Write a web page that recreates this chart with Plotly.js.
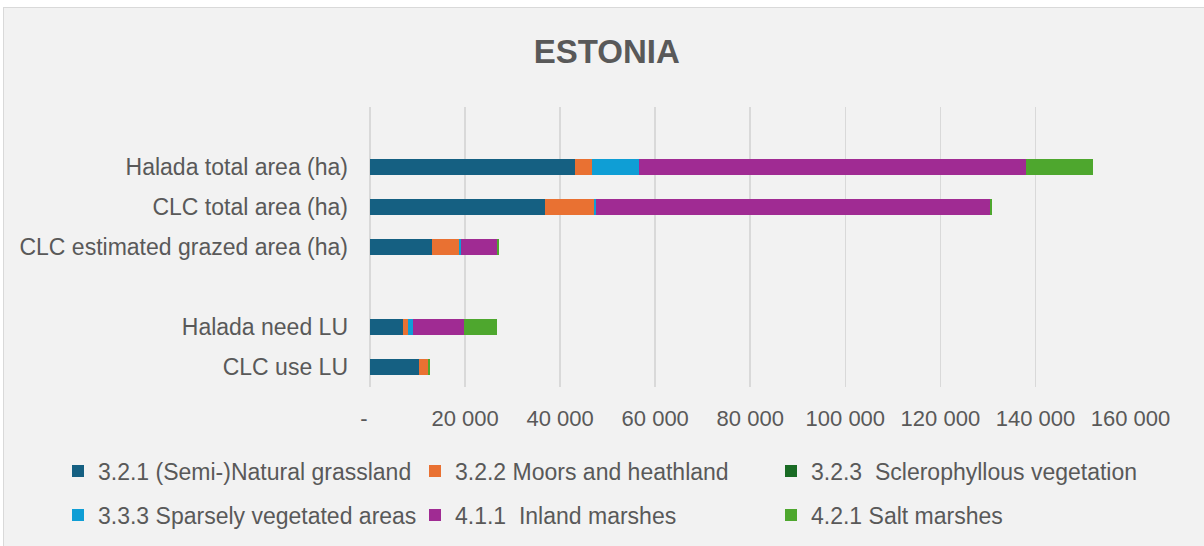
<!DOCTYPE html>
<html>
<head>
<meta charset="utf-8">
<script src="https://cdn.plot.ly/plotly-3.0.1.min.js"></script>
<style>
  html, body { margin: 0; padding: 0; background: #ffffff; width: 1204px; height: 546px; overflow: hidden; }
  #frame { position: absolute; left: 3px; top: 7px; width: 1220px; height: 560px; background: #f2f2f2; border: 1.5px solid #d9d9d9; box-sizing: border-box; }
  #chart { position: absolute; left: 0; top: 0; width: 1204px; height: 546px; }
</style>
</head>
<body>
<div id="frame"></div>
<div id="chart"></div>
<script>
// Categories (top to bottom); blank entries are empty rows in the chart
const categories = [" ", "Halada total area (ha)", "CLC total area (ha)", "CLC estimated grazed area (ha)", "  ", "Halada need LU", "CLC use LU"];

// Series values (ha / LU)
const grassland321 = [null, 43170, 36870, 13130, null, 7040, 10400];
const moors322     = [null, 3500, 10150, 5670, null, 980, 1890];
const scler323     = [null, 0, 0, 0, null, 0, 0];
const sparse333    = [null, 10000, 500, 360, null, 970, 0];
const inland411    = [null, 81410, 82840, 7630, null, 10800, 0];
const salt421      = [null, 14030, 440, 410, null, 7000, 350];

const seriesNames = [
  "3.2.1 (Semi-)Natural grassland",
  "3.2.2 Moors and heathland",
  "3.2.3\u00a0 Sclerophyllous vegetation",
  "3.3.3 Sparsely vegetated areas",
  "4.1.1\u00a0 Inland marshes",
  "4.2.1 Salt marshes"
];

// X axis ticks
const tickValues = [0, 20000, 40000, 60000, 80000, 100000, 120000, 140000, 160000];
const tickLabels = ["-\u00a0\u00a0", "20 000", "40 000", "60 000", "80 000", "100 000", "120 000", "140 000", "160 000"];

const seriesValues = [grassland321, moors322, scler323, sparse333, inland411, salt421];
const colors = ["#156082", "#E97132", "#196B24", "#0F9ED5", "#A02B93", "#4EA72E"];

const FONT = "Liberation Sans, Arial, sans-serif";
const TXT = "#595959";

// legend grid: 3 columns x 2 rows (text start x, row centre y in px)
const legendTextX = [98, 455, 811];
const legendRowY = [471, 515];

const traces = seriesValues.map((vals, i) => ({
  type: "bar",
  orientation: "h",
  name: seriesNames[i],
  x: vals,
  y: categories,
  marker: { color: colors[i], line: { width: 0 } },
  legend: i === 0 ? "legend" : "legend" + (i + 1),
  hoverinfo: "x+name"
}));

const layout = {
  width: 1204,
  height: 546,
  barmode: "stack",
  bargap: 0.6,
  paper_bgcolor: "rgba(0,0,0,0)",
  plot_bgcolor: "rgba(0,0,0,0)",
  margin: { l: 370, r: 73, t: 107, b: 159, pad: 0 },
  font: { family: FONT, color: TXT, size: 23 },
  title: {
    text: "<b>ESTONIA</b>",
    font: { family: FONT, size: 33, color: TXT },
    x: 0.504, xref: "container", xanchor: "center",
    y: 1 - 51 / 546, yref: "container", yanchor: "middle"
  },
  xaxis: {
    range: [0, 160100],
    tickmode: "array",
    tickvals: tickValues,
    ticktext: tickLabels,
    showgrid: true,
    gridcolor: "#d9d9d9",
    gridwidth: 1.6,
    zeroline: true,
    zerolinecolor: "#d9d9d9",
    zerolinewidth: 1.6,
    showline: false,
    ticks: "",
    ticklabelstandoff: 16,
    tickfont: { family: FONT, size: 22, color: TXT },
    fixedrange: true
  },
  yaxis: {
    type: "category",
    categoryorder: "array",
    categoryarray: categories,
    autorange: "reversed",
    showgrid: false,
    zeroline: false,
    showline: false,
    ticks: "",
    ticklabelstandoff: 21,
    tickfont: { family: FONT, size: 23, color: TXT },
    fixedrange: true
  },
  showlegend: true
};

seriesNames.forEach((n, i) => {
  const col = i % 3, row = Math.floor(i / 3);
  const key = i === 0 ? "legend" : "legend" + (i + 1);
  layout[key] = {
    orientation: "h",
    xref: "container", yref: "container",
    x: (legendTextX[col] - 40) / 1204, xanchor: "left",
    y: 1 - legendRowY[row] / 546, yanchor: "middle",
    bgcolor: "rgba(0,0,0,0)",
    borderwidth: 0,
    font: { family: FONT, size: 23, color: TXT }
  };
});

Plotly.newPlot("chart", traces, layout, { displayModeBar: false, staticPlot: true });
</script>
</body>
</html>
